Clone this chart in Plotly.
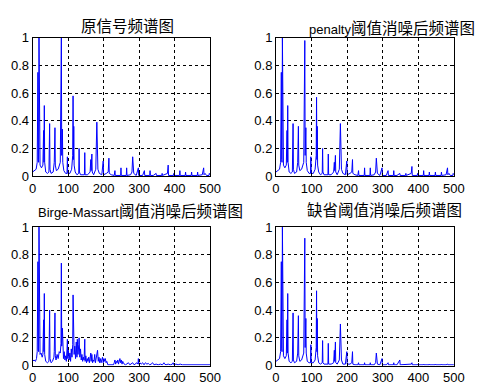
import re
import plotly.graph_objects as go

# ---- shared frequency vertices for the three "clean" spectra ----
freq = [0, 5, 10, 13, 15, 16, 17, 18, 19, 21,
        25, 29, 31, 32, 33, 34, 37, 42, 46, 48,
        49, 52, 58, 61, 63, 64, 67, 72, 78, 81,
        82, 84, 85, 88, 93, 97, 98, 99, 105, 110,
        113, 114, 115, 116, 117, 120, 125, 130, 131, 132,
        135, 146, 147, 148, 155, 162, 164, 165, 167, 168,
        172, 178, 181, 182, 183, 184, 188, 195, 199, 200,
        208, 213, 215, 216, 222, 230, 232, 233, 248, 249,
        250, 264, 265, 266, 276, 280, 282, 283, 284, 285,
        292, 298, 299, 310, 315, 316, 330, 331, 332, 340,
        348, 349, 364, 365, 366, 380, 382, 383, 397, 398,
        399, 414, 415, 416, 430, 431, 432, 447, 448, 449,
        464, 465, 466, 478, 482, 483, 486, 490, 497, 498,
        500]

orig_amp = [0.03, 0.04, 0.05, 0.10, 0.75, 0.12, 0.10, 1.00, 0.13, 0.08,
            0.06, 0.08, 0.33, 0.10, 0.51, 0.10, 0.03, 0.02, 0.03, 0.38,
            0.05, 0.02, 0.03, 0.10, 0.35, 0.08, 0.04, 0.05, 0.10, 1.00,
            0.15, 0.34, 0.10, 0.04, 0.02, 0.02, 0.14, 0.02, 0.02, 0.05,
            0.15, 0.58, 0.12, 0.36, 0.08, 0.03, 0.01, 0.02, 0.20, 0.03,
            0.01, 0.01, 0.17, 0.01, 0.01, 0.03, 0.12, 0.04, 0.16, 0.03,
            0.01, 0.05, 0.39, 0.10, 0.29, 0.05, 0.02, 0.01, 0.11, 0.01,
            0.02, 0.03, 0.13, 0.02, 0.01, 0.005, 0.04, 0.005, 0.005, 0.06,
            0.005, 0.005, 0.06, 0.005, 0.01, 0.03, 0.14, 0.05, 0.10, 0.02,
            0.005, 0.06, 0.005, 0.005, 0.04, 0.005, 0.005, 0.04, 0.005, 0.005,
            0.02, 0.005, 0.005, 0.02, 0.005, 0.02, 0.08, 0.005, 0.005, 0.02,
            0.005, 0.005, 0.04, 0.005, 0.005, 0.03, 0.005, 0.005, 0.03, 0.005,
            0.005, 0.03, 0.005, 0.01, 0.06, 0.01, 0.02, 0.005, 0.005, 0.02,
            0.01]

penalty_amp = [0.03, 0.04, 0.05, 0.10, 0.75, 0.12, 0.10, 1.00, 0.13, 0.08,
               0.06, 0.08, 0.33, 0.10, 0.51, 0.10, 0.03, 0.02, 0.03, 0.38,
               0.05, 0.02, 0.03, 0.10, 0.36, 0.08, 0.04, 0.05, 0.10, 0.98,
               0.15, 0.35, 0.10, 0.04, 0.02, 0.02, 0.14, 0.02, 0.02, 0.05,
               0.15, 0.57, 0.12, 0.36, 0.08, 0.03, 0.01, 0.02, 0.20, 0.03,
               0.01, 0.01, 0.16, 0.01, 0.01, 0.03, 0.10, 0.04, 0.15, 0.03,
               0.01, 0.05, 0.38, 0.10, 0.28, 0.05, 0.02, 0.01, 0.11, 0.01,
               0.02, 0.03, 0.12, 0.02, 0.01, 0.005, 0.04, 0.005, 0.005, 0.06,
               0.005, 0.005, 0.06, 0.005, 0.01, 0.03, 0.13, 0.05, 0.10, 0.02,
               0.005, 0.06, 0.005, 0.005, 0.04, 0.005, 0.005, 0.04, 0.005, 0.005,
               0.02, 0.005, 0.005, 0.02, 0.005, 0.02, 0.07, 0.005, 0.005, 0.02,
               0.005, 0.005, 0.04, 0.005, 0.005, 0.03, 0.005, 0.005, 0.03, 0.005,
               0.005, 0.03, 0.005, 0.01, 0.06, 0.01, 0.02, 0.005, 0.005, 0.02,
               0.01]

default_amp = [0.03, 0.04, 0.05, 0.10, 0.75, 0.12, 0.10, 1.00, 0.12, 0.07,
               0.05, 0.07, 0.33, 0.09, 0.52, 0.09, 0.03, 0.02, 0.03, 0.38,
               0.04, 0.02, 0.03, 0.09, 0.36, 0.07, 0.03, 0.04, 0.09, 0.92,
               0.13, 0.34, 0.09, 0.03, 0.02, 0.02, 0.15, 0.02, 0.02, 0.04,
               0.13, 0.54, 0.10, 0.34, 0.07, 0.02, 0.01, 0.02, 0.18, 0.02,
               0.01, 0.01, 0.16, 0.01, 0.01, 0.02, 0.11, 0.03, 0.17, 0.02,
               0.01, 0.04, 0.30, 0.08, 0.20, 0.04, 0.01, 0.01, 0.10, 0.01,
               0.01, 0.02, 0.10, 0.01, 0.005, 0.005, 0.02, 0.005, 0.005, 0.02,
               0.005, 0.005, 0.02, 0.005, 0.005, 0.02, 0.09, 0.03, 0.06, 0.01,
               0.005, 0.05, 0.005, 0.005, 0.02, 0.005, 0.005, 0.02, 0.005, 0.005,
               0.04, 0.005, 0.005, 0.01, 0.005, 0.01, 0.02, 0.005, 0.005, 0.01,
               0.005, 0.005, 0.01, 0.005, 0.005, 0.01, 0.005, 0.005, 0.01, 0.005,
               0.005, 0.01, 0.005, 0.005, 0.01, 0.005, 0.005, 0.005, 0.005, 0.01,
               0.005]

# ---- Birge-Massart spectrum (noisier) ----
bm_freq = [0, 4, 8, 11, 13, 15, 16, 17, 18, 19,
           21, 24, 27, 29, 31, 32, 33, 34, 37, 42,
           46, 48, 49, 52, 56, 60, 61, 63, 64, 66,
           69, 72, 75, 78, 80, 81, 82, 84, 85, 87,
           89, 91, 93, 95, 97, 98, 99, 101, 103, 105,
           107, 109, 111, 113, 114, 115, 116, 117, 119, 121,
           123, 125, 126, 128, 130, 131, 133, 135, 137, 139,
           141, 143, 145, 147, 148, 150, 152, 154, 156, 158,
           160, 162, 164, 165, 167, 169, 171, 173, 175, 177,
           179, 181, 183, 185, 187, 189, 191, 193, 195, 197,
           199, 201, 203, 205, 207, 209, 212, 216, 220, 224,
           228, 230, 232, 234, 236, 238, 240, 242, 244, 246,
           248, 250, 252, 254, 256, 258, 262, 266, 270, 274,
           278, 282, 286, 290, 294, 297, 298, 299, 302, 306,
           310, 314, 318, 322, 326, 330, 334, 338, 342, 348,
           354, 360, 366, 370, 372, 376, 382, 388, 394, 396,
           398, 404, 410, 416, 422, 428, 434, 440, 446, 452,
           458, 464, 470, 476, 482, 488, 494, 498, 500]

bm_amp = [0.03, 0.04, 0.03, 0.05, 0.10, 0.75, 0.12, 0.10, 1.00, 0.14,
          0.08, 0.09, 0.06, 0.08, 0.33, 0.10, 0.52, 0.08, 0.03, 0.02,
          0.03, 0.40, 0.05, 0.02, 0.03, 0.06, 0.10, 0.38, 0.07, 0.04,
          0.08, 0.05, 0.10, 0.09, 0.16, 0.74, 0.14, 0.27, 0.08, 0.05,
          0.10, 0.04, 0.07, 0.03, 0.12, 0.19, 0.05, 0.11, 0.04, 0.09,
          0.03, 0.12, 0.06, 0.15, 0.51, 0.10, 0.32, 0.08, 0.14, 0.05,
          0.17, 0.06, 0.19, 0.08, 0.15, 0.20, 0.06, 0.12, 0.04, 0.08,
          0.03, 0.06, 0.04, 0.19, 0.03, 0.07, 0.02, 0.05, 0.03, 0.06,
          0.02, 0.05, 0.09, 0.03, 0.08, 0.02, 0.04, 0.03, 0.08, 0.02,
          0.05, 0.06, 0.11, 0.03, 0.06, 0.02, 0.05, 0.02, 0.04, 0.06,
          0.02, 0.05, 0.03, 0.05, 0.02, 0.03, 0.005, 0.005, 0.01, 0.005,
          0.005, 0.02, 0.04, 0.01, 0.03, 0.02, 0.04, 0.01, 0.03, 0.05,
          0.02, 0.04, 0.01, 0.03, 0.02, 0.01, 0.005, 0.01, 0.02, 0.005,
          0.01, 0.02, 0.005, 0.01, 0.02, 0.01, 0.05, 0.01, 0.02, 0.01,
          0.02, 0.005, 0.02, 0.01, 0.015, 0.005, 0.01, 0.02, 0.005, 0.01,
          0.005, 0.01, 0.005, 0.02, 0.01, 0.005, 0.01, 0.005, 0.01, 0.02,
          0.005, 0.01, 0.005, 0.01, 0.005, 0.005, 0.01, 0.005, 0.005, 0.01,
          0.005, 0.005, 0.01, 0.005, 0.01, 0.005, 0.005, 0.01, 0.005]

titles = ["原信号频谱图", "penalty阈值消噪后频谱图",
          "Birge-Massart阈值消噪后频谱图", "缺省阈值消噪后频谱图"]
x_ticks = [0, 100, 200, 300, 400, 500]
y_ticks = [0, 0.2, 0.4, 0.6, 0.8, 1]
y_tick_text = ["0", "0.2", "0.4", "0.6", "0.8", "1"]

W, H = 494, 386
# plot-area pixel boxes: (left, right, top, bottom)
boxes = [(29.5, 212.5, 32, 176), (280.5, 464, 32, 176),
         (29.5, 212.5, 229, 373), (280.5, 464, 229, 373)]
title_pos = [(127, 20), (400, 22), (141, 213), (392, 212)]


def styled(title):
    # CJK runs rendered a little larger than Latin runs (as in the original)
    parts = re.split(r"([\u4e00-\u9fff]+)", title)
    out = []
    for p in parts:
        if not p:
            continue
        if re.match(r"[\u4e00-\u9fff]", p):
            out.append(f'<span style="font-size:15.5px">{p}</span>')
        else:
            out.append(p)
    return "".join(out)


series = [(freq, orig_amp), (freq, penalty_amp), (bm_freq, bm_amp), (freq, default_amp)]

fig = go.Figure()
layout = dict(width=W, height=H, margin=dict(l=0, r=0, t=0, b=0),
              paper_bgcolor="white", plot_bgcolor="white", showlegend=False,
              font=dict(family="Liberation Sans, Arial, sans-serif", size=13, color="black"))
annotations = []
for i, ((fx, fy), (l, r, t, b)) in enumerate(zip(series, boxes)):
    n = i + 1
    sfx = "" if n == 1 else str(n)
    fig.add_trace(go.Scatter(x=fx, y=fy, mode="lines",
                             line=dict(color="#0000FF", width=1),
                             xaxis=f"x{sfx}", yaxis=f"y{sfx}"))
    common = dict(showline=True, linecolor="black", linewidth=1, mirror="ticks",
                  ticks="inside", ticklen=3, tickcolor="black",
                  showgrid=True, gridcolor="black", gridwidth=1, griddash="3px,3px",
                  zeroline=False, tickfont=dict(size=13, color="black"))
    layout[f"xaxis{sfx}"] = dict(domain=[l / W, r / W], range=[0, 500], tickvals=x_ticks,
                                 anchor=f"y{sfx}", **common)
    layout[f"yaxis{sfx}"] = dict(domain=[1 - b / H, 1 - t / H], range=[0, 1], tickvals=y_ticks,
                                 ticktext=y_tick_text, anchor=f"x{sfx}", **common)
    cx, cy = title_pos[i]
    annotations.append(dict(text=styled(titles[i]), x=cx / W, y=1 - cy / H,
                            xref="paper", yref="paper",
                            xanchor="center", yanchor="middle", showarrow=False,
                            font=dict(family="Liberation Sans, Noto Sans CJK SC, sans-serif",
                                      size=13, color="black")))
layout["annotations"] = annotations
fig.update_layout(**layout)
fig.write_html("out.html")
